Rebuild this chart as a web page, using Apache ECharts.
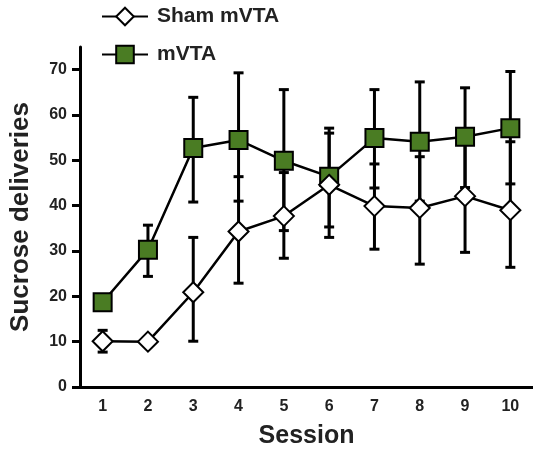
<!DOCTYPE html>
<html>
<head>
<meta charset="utf-8">
<script src="https://cdn.jsdelivr.net/npm/echarts@6/dist/echarts.min.js"></script>
<style>
html,body{margin:0;padding:0;background:#fff;}
#chart{width:533px;height:454px;}
</style>
</head>
<body>
<div id="chart"></div>
<script>
var sessions = ['1','2','3','4','5','6','7','8','9','10'];
var yTicks = [0,10,20,30,40,50,60,70];

var shamMean = [10.1, 10.0, 20.9, 34.3, 37.7, 44.6, 39.9, 39.5, 42.1, 39.0];
var shamLow  = [7.7, 10.0, 10.1, 22.9, 28.4, 33.0, 30.4, 27.1, 29.7, 26.4];
var shamHigh = [12.5, 10.0, 33.0, 46.4, 47.3, 56.0, 49.2, 50.8, 54.5, 54.1];

var mvtaMean = [18.7, 30.3, 52.7, 54.5, 49.9, 46.4, 54.9, 54.1, 55.2, 57.1];
var mvtaLow  = [18.7, 24.4, 40.8, 41.0, 34.5, 35.3, 43.9, 41.0, 44.0, 44.8];
var mvtaHigh = [18.7, 35.7, 63.9, 69.3, 65.6, 57.1, 65.6, 67.3, 66.0, 69.6];

var FONT = '"Liberation Sans", Arial, Helvetica, sans-serif';
var TXT = '#222';

function errData(low, high) {
  return low.map(function (l, i) { return [i, l, high[i]]; });
}

function renderErr(params, api) {
  var x = api.value(0);
  var lo = api.coord([x, api.value(1)]);
  var hi = api.coord([x, api.value(2)]);
  var half = 5;
  var style = { stroke: '#000', lineWidth: 3 };
  return {
    type: 'group',
    children: [
      { type: 'line', shape: { x1: lo[0], y1: lo[1], x2: hi[0], y2: hi[1] }, style: style },
      { type: 'line', shape: { x1: hi[0] - half, y1: hi[1], x2: hi[0] + half, y2: hi[1] }, style: style },
      { type: 'line', shape: { x1: lo[0] - half, y1: lo[1], x2: lo[0] + half, y2: lo[1] }, style: style }
    ]
  };
}

var chart = echarts.init(document.getElementById('chart'), null, { renderer: 'canvas' });
chart.setOption({
  animation: false,
  backgroundColor: '#fff',
  textStyle: { fontFamily: FONT },
  grid: { left: 80, width: 460, top: 47, bottom: 65.5, containLabel: false },
  legend: {
    data: ['Sham mVTA', 'mVTA'],
    orient: 'vertical',
    left: 96,
    top: 1,
    itemWidth: 46,
    itemHeight: 22,
    itemGap: 17,
    selectedMode: false,
    textStyle: { fontFamily: FONT, fontWeight: 'bold', fontSize: 21, color: TXT, padding: [0, 0, 0, 4] }
  },
  xAxis: {
    type: 'category',
    data: sessions,
    boundaryGap: true,
    name: 'Session',
    nameLocation: 'middle',
    nameGap: 37,
    nameTextStyle: { fontFamily: FONT, fontWeight: 'bold', fontSize: 25, color: TXT },
    axisLine: { lineStyle: { color: '#000', width: 3 } },
    axisTick: { show: false },
    axisLabel: { margin: 12, fontFamily: FONT, fontWeight: 'bold', fontSize: 16, color: TXT },
    splitLine: { show: false }
  },
  yAxis: {
    type: 'value',
    min: 0,
    max: 75,
    name: 'Sucrose deliveries',
    nameLocation: 'middle',
    nameGap: 46,
    nameTextStyle: { fontFamily: FONT, fontWeight: 'bold', fontSize: 26, color: TXT },
    axisLine: { show: true, lineStyle: { color: '#000', width: 3 } },
    axisTick: { show: true, length: 8, lineStyle: { color: '#000', width: 3 }, customValues: yTicks },
    axisLabel: { margin: 13, fontFamily: FONT, fontWeight: 'bold', fontSize: 16, color: TXT, customValues: yTicks },
    splitLine: { show: false }
  },
  series: [
    {
      name: 'mVTA err',
      type: 'custom',
      z: 1,
      renderItem: renderErr,
      encode: { x: 0, y: [1, 2] },
      data: errData(mvtaLow, mvtaHigh)
    },
    {
      name: 'Sham err',
      type: 'custom',
      z: 1,
      renderItem: renderErr,
      encode: { x: 0, y: [1, 2] },
      data: errData(shamLow, shamHigh)
    },
    {
      name: 'mVTA',
      type: 'line',
      z: 3,
      data: mvtaMean,
      symbol: 'rect',
      symbolSize: 18,
      lineStyle: { color: '#000', width: 2.5 },
      itemStyle: { color: '#4a7c23', borderColor: '#000', borderWidth: 2 }
    },
    {
      name: 'Sham mVTA',
      type: 'line',
      z: 4,
      data: shamMean,
      symbol: 'diamond',
      symbolSize: [20, 20],
      lineStyle: { color: '#000', width: 2.5 },
      itemStyle: { color: '#fff', borderColor: '#000', borderWidth: 2 }
    }
  ]
});
</script>
</body>
</html>
